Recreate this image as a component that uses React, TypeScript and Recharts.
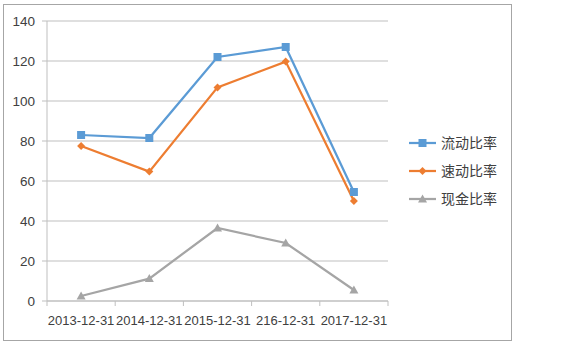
import React from 'react';
import { LineChart, Line, XAxis, YAxis, CartesianGrid } from 'recharts';

const categories = ['2013-12-31', '2014-12-31', '2015-12-31', '216-12-31', '2017-12-31'];
const currentRatio = [83, 81.5, 122, 127, 54.5];
const quickRatio = [77.5, 64.7, 106.8, 119.7, 50];
const cashRatio = [2.5, 11.2, 36.5, 29, 5.5];
const yTicks = [0, 20, 40, 60, 80, 100, 120, 140];

const seriesNames = ['流动比率', '速动比率', '现金比率'];
const colors = ['#5B9BD5', '#ED7D31', '#A5A5A5'];

const data = categories.map((c, i) => ({
  cat: c,
  a: currentRatio[i],
  b: quickRatio[i],
  c: cashRatio[i],
}));

const FONT = "'Liberation Sans', 'Noto Sans CJK SC', sans-serif";
const TEXT = '#404040';
const AXIS = '#BFBFBF';

const SquareDot = (props: any) => {
  const { cx, cy } = props;
  if (cx == null || cy == null) return null;
  return <rect x={cx - 4} y={cy - 4} width={8} height={8} fill={colors[0]} />;
};
const DiamondDot = (props: any) => {
  const { cx, cy } = props;
  if (cx == null || cy == null) return null;
  return <path d={`M${cx},${cy - 4}L${cx + 4},${cy}L${cx},${cy + 4}L${cx - 4},${cy}Z`} fill={colors[1]} />;
};
const TriangleDot = (props: any) => {
  const { cx, cy } = props;
  if (cx == null || cy == null) return null;
  return <path d={`M${cx},${cy - 4.5}L${cx + 4.5},${cy + 3.5}L${cx - 4.5},${cy + 3.5}Z`} fill={colors[2]} />;
};

const XTick = (props: any) => {
  const { x, y, payload, index } = props;
  const off = payload && typeof payload.offset === 'number' && payload.offset > 0 ? payload.offset : 34.1;
  const axisY = y - 8;
  return (
    <g>
      <line x1={x - off} x2={x - off} y1={axisY} y2={axisY + 5} stroke={AXIS} />
      {index === categories.length - 1 && (
        <line x1={x + off} x2={x + off} y1={axisY} y2={axisY + 5} stroke={AXIS} />
      )}
      <text x={x} y={y + 16} textAnchor="middle" fill={TEXT} fontSize={13} fontFamily={FONT}>
        {payload.value}
      </text>
    </g>
  );
};

const LegendBlock = () => (
  <div style={{ position: 'absolute', left: 408, top: 129, fontFamily: FONT }}>
    {seriesNames.map((n, i) => (
      <div key={n} style={{ display: 'flex', alignItems: 'center', height: 28 }}>
        <svg width={30} height={12} style={{ marginRight: 3 }}>
          <line x1={1} x2={28} y1={6} y2={6} stroke={colors[i]} strokeWidth={2.25} />
          {i === 0 && <rect x={10.5} y={2} width={8} height={8} fill={colors[0]} />}
          {i === 1 && <path d="M14.5,2L18.5,6L14.5,10L10.5,6Z" fill={colors[1]} />}
          {i === 2 && <path d="M14.5,1.5L19,9.5L10,9.5Z" fill={colors[2]} />}
        </svg>
        <span style={{ fontSize: 14, color: TEXT, lineHeight: '14px' }}>{n}</span>
      </div>
    ))}
  </div>
);

export default function App() {
  return (
    <div style={{ position: 'absolute', left: 0, top: 0, width: 576, height: 354, background: '#fff' }}>
      <div
        style={{
          position: 'absolute',
          left: 3,
          top: 4,
          width: 509,
          height: 337,
          border: '1px solid #A6A6A6',
          boxSizing: 'border-box',
        }}
      />
      <div style={{ position: 'absolute', left: 0, top: 0 }}>
        <LineChart
          width={576}
          height={354}
          data={data}
          margin={{ top: 21, right: 188, bottom: 23, left: 0 }}
        >
          <CartesianGrid vertical={false} stroke={AXIS} strokeWidth={1} />
          <XAxis
            dataKey="cat"
            scale="band"
            interval={0}
            height={30}
            axisLine={{ stroke: AXIS }}
            tickLine={false}
            tick={<XTick />}
          />
          <YAxis
            domain={[0, 140]}
            ticks={yTicks}
            width={47}
            axisLine={{ stroke: AXIS }}
            tickLine={{ stroke: AXIS }}
            tickSize={5}
            tickMargin={7}
            tick={{ fill: TEXT, fontSize: 13.5, fontFamily: FONT }}
            interval={0}
          />
          <Line
            type="linear"
            dataKey="a"
            name={seriesNames[0]}
            stroke={colors[0]}
            strokeWidth={2.25}
            dot={<SquareDot />}
            activeDot={false}
            isAnimationActive={false}
          />
          <Line
            type="linear"
            dataKey="b"
            name={seriesNames[1]}
            stroke={colors[1]}
            strokeWidth={2.25}
            dot={<DiamondDot />}
            activeDot={false}
            isAnimationActive={false}
          />
          <Line
            type="linear"
            dataKey="c"
            name={seriesNames[2]}
            stroke={colors[2]}
            strokeWidth={2.25}
            dot={<TriangleDot />}
            activeDot={false}
            isAnimationActive={false}
          />
        </LineChart>
      </div>
      <LegendBlock />
    </div>
  );
}
